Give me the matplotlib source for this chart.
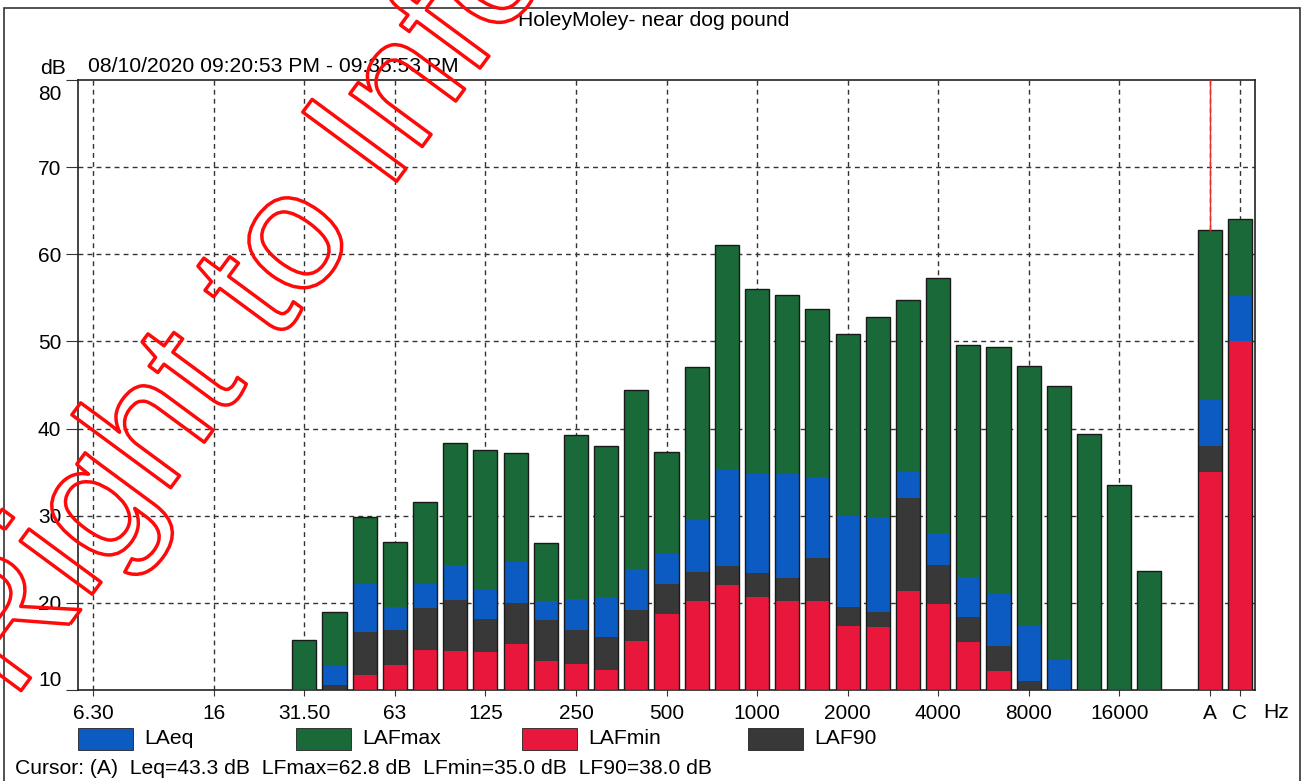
import numpy as np
import matplotlib
matplotlib.use("Agg")
import matplotlib.pyplot as plt
import matplotlib.patches as mpatches
import matplotlib.patheffects as pe
import matplotlib.transforms as mtransforms

plt.rcParams["font.family"] = ["Liberation Sans", "DejaVu Sans"]

nan = np.nan

# 1/3-octave bands, then the broadband A and C totals
bands = ["6.30", "8", "10", "12.5", "16", "20", "25", "31.50", "40", "50", "63",
         "80", "100", "125", "160", "200", "250", "315", "400", "500", "630",
         "800", "1000", "1250", "1600", "2000", "2500", "3150", "4000", "5000",
         "6300", "8000", "10000", "12500", "16000", "20000"]
totals = ["A", "C"]
tick_labels = ["6.30", "16", "31.50", "63", "125", "250", "500", "1000", "2000",
               "4000", "8000", "16000", "A", "C"]

lafmax = [nan, nan, nan, nan, nan, nan, nan, 15.7, 18.9, 29.8, 27.0,
          31.6, 38.4, 37.5, 37.2, 26.9, 39.3, 38.0, 44.4, 37.3, 47.1,
          61.1, 56.0, 55.3, 53.7, 50.9, 52.8, 54.8, 57.3, 49.6,
          49.4, 47.2, 44.9, 39.4, 33.5, 23.6]
laeq = [nan, nan, nan, nan, nan, nan, nan, nan, 12.7, 22.2, 19.5,
        22.2, 24.4, 21.5, 24.7, 20.2, 20.4, 20.7, 23.9, 25.6, 29.5,
        35.3, 34.8, 34.8, 34.4, 30.0, 29.8, 35.0, 28.0, 23.0,
        21.0, 17.3, 13.5, nan, nan, nan]
laf90 = [nan, nan, nan, nan, nan, nan, nan, nan, 10.6, 16.6, 16.9,
         19.4, 20.3, 18.2, 20.0, 18.0, 16.9, 16.1, 19.2, 22.2, 23.5,
         24.2, 23.4, 22.8, 25.1, 19.5, 18.9, 32.0, 24.3, 18.4,
         15.0, 11.0, nan, nan, nan, nan]
lafmin = [nan, nan, nan, nan, nan, nan, nan, nan, nan, 11.7, 12.9,
          14.6, 14.5, 14.4, 15.3, 13.3, 13.0, 12.3, 15.6, 18.7, 20.2,
          22.0, 20.7, 20.2, 20.2, 17.4, 17.2, 21.4, 19.9, 15.5,
          12.2, nan, nan, nan, nan, nan]

totals_lafmax = [62.8, 64.0]
totals_laeq = [43.3, 55.2]
totals_laf90 = [38.0, 50.0]
totals_lafmin = [35.0, 50.0]

series_names = ["LAeq", "LAFmax", "LAFmin", "LAF90"]
colors = {"LAeq": "#0b5bc2", "LAFmax": "#196a38", "LAFmin": "#e8173b", "LAF90": "#383838"}

BASE = 10.0
W, H = 1309, 781

# positions: bands on 0..35, one empty slot, then A and C
x_bands = np.arange(len(bands))
x_totals = np.arange(len(totals)) + len(bands) + 1
xs = np.concatenate([x_bands, x_totals])
label_pos = {b: x for b, x in zip(bands + totals, xs)}

data = {
    "LAFmax": np.array(lafmax + totals_lafmax),
    "LAeq": np.array(laeq + totals_laeq),
    "LAF90": np.array(laf90 + totals_laf90),
    "LAFmin": np.array(lafmin + totals_lafmin),
}

fig = plt.figure(figsize=(W / 100, H / 100), dpi=100)
ax = fig.add_axes([78 / W, 1 - 690 / H, (1255 - 78) / W, (690 - 80) / H])

ax.set_xlim(-0.5, xs[-1] + 0.5)
ax.set_ylim(10, 80)

# overlaid bars, tallest first
bw = 0.8
for name in ["LAFmax", "LAeq", "LAF90", "LAFmin"]:
    v = data[name]
    ok = ~np.isnan(v)
    ax.bar(xs[ok], v[ok] - BASE, bottom=BASE, width=bw, color=colors[name],
           linewidth=0, zorder=3)
tops = np.nanmax(np.vstack(list(data.values())), axis=0)
ok = ~np.isnan(tops)
ax.bar(xs[ok], tops[ok] - BASE, bottom=BASE, width=bw, facecolor="none",
       edgecolor="#1a1a1a", linewidth=1.0, zorder=4)

# cursor line on A
ax.plot([label_pos["A"], label_pos["A"]], [totals_lafmax[0], 80], color="#e03030",
        linewidth=1.0, zorder=5)

# grid
tick_x = [label_pos[t] for t in tick_labels]
for x in tick_x:
    ax.axvline(x, color="#333333", linewidth=1.0, linestyle=(0, (3.5, 3)), zorder=1)
for y in range(20, 80, 10):
    ax.axhline(y, color="#333333", linewidth=1.0, linestyle=(0, (3.5, 3)), zorder=1)

ax.set_xticks(tick_x)
ax.set_xticklabels(tick_labels)
ax.set_yticks(range(10, 81, 10))
ax.tick_params(axis="x", length=4, pad=6, labelsize=15, color="#333333")
ax.tick_params(axis="y", length=9, pad=3, labelsize=15, color="#333333")
for lab in ax.get_yticklabels():
    if lab.get_text() == "10":
        lab.set_transform(lab.get_transform() + mtransforms.ScaledTranslation(0, 0.11, fig.dpi_scale_trans))
    elif lab.get_text() == "80":
        lab.set_transform(lab.get_transform() + mtransforms.ScaledTranslation(0, -0.13, fig.dpi_scale_trans))
for s in ax.spines.values():
    s.set_linewidth(1.2)
    s.set_color("#222222")

# texts around the plot
fig.text(654 / W, 1 - 21 / H, "HoleyMoley- near dog pound", ha="center", va="center", fontsize=15.2)
fig.text(40 / W, 1 - 68 / H, "dB", ha="left", va="center", fontsize=15.2)
fig.text(88 / W, 1 - 67 / H, "08/10/2020 09:20:53 PM - 09:35:53 PM", ha="left", va="center", fontsize=15.2)
fig.text(1276 / W, 1 - 712 / H, "Hz", ha="center", va="center", fontsize=15.2)

# legend row
leg_x = [78, 296, 522, 748]
for name, lx in zip(series_names, leg_x):
    fig.patches.append(mpatches.Rectangle((lx / W, 1 - 750 / H), 55 / W, 22 / H,
                                          transform=fig.transFigure, facecolor=colors[name],
                                          edgecolor="#222222", linewidth=0.6))
    fig.text((lx + 66) / W, 1 - 739 / H, name, ha="left", va="center", fontsize=15.2)

fig.text(15 / W, 1 - 768 / H,
         "Cursor: (A)  Leq=43.3 dB  LFmax=62.8 dB  LFmin=35.0 dB  LF90=38.0 dB",
         ha="left", va="center", fontsize=15.2)

# outer frame of the printout
fig.patches.append(mpatches.Rectangle((4 / W, -0.05), 1296 / W, 1.05 - 8 / H,
                                      transform=fig.transFigure, facecolor="none",
                                      edgecolor="#333333", linewidth=1.2))

# watermark stamp
fig.text(284 / W, 1 - 334 / H, "Right to Info", rotation=53.6, rotation_mode="anchor",
         ha="center", va="baseline", fontsize=122, color="none",
         path_effects=[pe.withStroke(linewidth=2.5, foreground="#ff0a0a")], zorder=10)

fig.savefig("out.png", dpi=100)
